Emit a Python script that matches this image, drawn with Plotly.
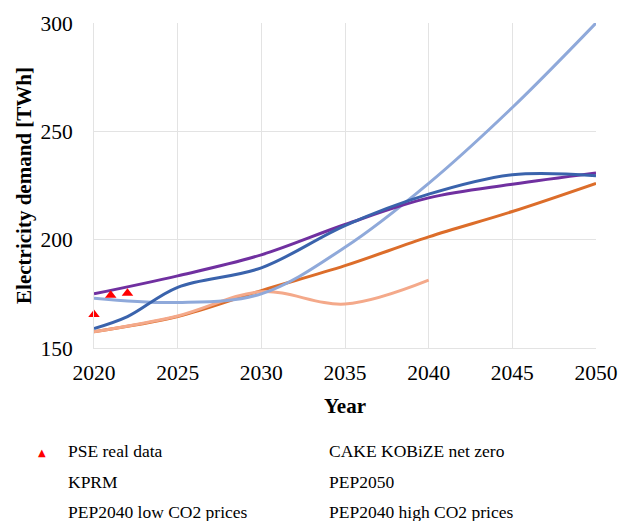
import plotly.graph_objects as go

# Scenario years and projected electricity demand [TWh]
years = [2020, 2025, 2030, 2035, 2040, 2045, 2050]
years_2040 = [2020, 2025, 2030, 2035, 2040]
kprm_years = [2020, 2022, 2025, 2030, 2035, 2040, 2045, 2050]

cake_net_zero = [173, 171, 175, 196.5, 226, 261, 300]
kprm = [159, 164.5, 178, 187, 206.5, 221, 230, 229.5]
pep2050 = [175, 183.3, 193, 207, 219.3, 225.6, 230.8]
pep2040_low = [157.5, 164.5, 176.5, 188, 201.3, 213, 226]
pep2040_high = [157.5, 164.8, 176, 170.3, 181.3]

# Observed demand (PSE)
pse_years = [2020, 2021, 2022]
pse_real = [165.5, 174.3, 175.3]

x_ticks = [2020, 2025, 2030, 2035, 2040, 2045, 2050]
y_ticks = [150, 200, 250, 300]

# Legend layout: two columns, three rows (row-major order)
legend_names = [
    "PSE real data", "CAKE KOBiZE net zero",
    "KPRM", "PEP2050",
    "PEP2040 low CO2 prices", "PEP2040 high CO2 prices",
]

FONT = "Times New Roman, Liberation Serif, Times, serif"

series = [
    # name, x, y, colour
    ("PEP2040 low CO2 prices", years, pep2040_low, "#DC6D2A"),
    ("PEP2040 high CO2 prices", years_2040, pep2040_high, "#F4A98A"),
    ("CAKE KOBiZE net zero", years, cake_net_zero, "#8FA9DA"),
    ("PEP2050", years, pep2050, "#7030A0"),
    ("KPRM", kprm_years, kprm, "#3A63AC"),
]

fig = go.Figure()

for name, xs, ys, colour in series:
    fig.add_trace(go.Scatter(
        x=xs, y=ys, mode="lines", name=name,
        line=dict(color=colour, width=3, shape="spline", smoothing=1.0),
        showlegend=False, hoverinfo="x+y+name",
    ))

fig.add_trace(go.Scatter(
    x=pse_years, y=pse_real, mode="markers", name="PSE real data",
    marker=dict(symbol="triangle-up", size=10, color="#FF0000"),
    showlegend=False, cliponaxis=False,
))

# Legend drawn below the plot as text entries (paper coordinates)
col_x = [-0.055, 0.464]
row_y = [-0.317, -0.411, -0.506]
for i, name in enumerate(legend_names):
    fig.add_annotation(
        x=col_x[i % 2], y=row_y[i // 2], xref="paper", yref="paper",
        text=name, showarrow=False, xanchor="left", yanchor="middle",
        font=dict(family=FONT, size=17.5, color="#000000"),
    )
# Marker swatch for the observed-data entry
fig.add_annotation(
    x=-0.1026, y=-0.322, xref="paper", yref="paper",
    text="▲", showarrow=False, xanchor="center", yanchor="middle",
    font=dict(family="DejaVu Sans", size=10, color="#FF0000"),
)

grid = "#E3E3E3"

fig.update_layout(
    width=636, height=521,
    margin=dict(l=94, r=40, t=18, b=173),
    paper_bgcolor="white", plot_bgcolor="white",
    font=dict(family=FONT, size=21, color="#000000"),
    showlegend=False,
    xaxis=dict(
        range=[2020, 2050], tickvals=x_ticks, ticktext=[str(v) for v in x_ticks],
        showgrid=True, gridcolor=grid, gridwidth=1,
        showline=True, linecolor=grid, linewidth=1, zeroline=False,
        ticks="", ticklabelstandoff=5,
        tickfont=dict(family=FONT, size=21.5),
        title=dict(text="<b>Year</b>", font=dict(family=FONT, size=21), standoff=14),
    ),
    yaxis=dict(
        range=[150, 300], tickvals=y_ticks, ticktext=[str(v) for v in y_ticks],
        showgrid=True, gridcolor=grid, gridwidth=1,
        showline=True, linecolor=grid, linewidth=1, zeroline=False,
        ticks="", ticklabelstandoff=16,
        tickfont=dict(family=FONT, size=21.5),
        title=dict(text="<b>Electricity demand [TWh]</b>", font=dict(family=FONT, size=21), standoff=3),
    ),
)

fig.write_html("out.html")
